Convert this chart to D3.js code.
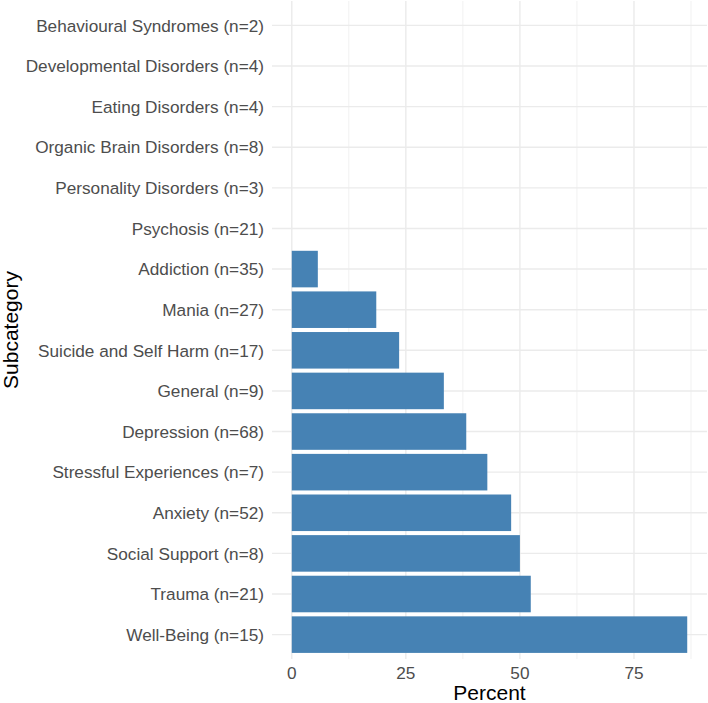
<!DOCTYPE html>
<html>
<head>
<meta charset="utf-8">
<script src="https://cdn.jsdelivr.net/npm/d3@7"></script>
<style>
  body { margin: 0; background: #fff; }
  text { font-family: "Liberation Sans", Arial, Helvetica, sans-serif; }
</style>
</head>
<body>
<div id="chart"></div>
<script>
// subcategories, top to bottom
var categories = [
    'Behavioural Syndromes (n=2)',
    'Developmental Disorders (n=4)',
    'Eating Disorders (n=4)',
    'Organic Brain Disorders (n=8)',
    'Personality Disorders (n=3)',
    'Psychosis (n=21)',
    'Addiction (n=35)',
    'Mania (n=27)',
    'Suicide and Self Harm (n=17)',
    'General (n=9)',
    'Depression (n=68)',
    'Stressful Experiences (n=7)',
    'Anxiety (n=52)',
    'Social Support (n=8)',
    'Trauma (n=21)',
    'Well-Being (n=15)'
];
var percents = [0, 0, 0, 0, 0, 0, 5.71, 18.52, 23.53, 33.33, 38.24, 42.86, 48.08, 50, 52.38, 86.67];
var xTicks = [0, 25, 50, 75];
var xMinor = [12.5, 37.5, 62.5, 87.5];

var width = 708, height = 703;
var margin = { top: 1, right: 1, bottom: 44, left: 272 };
var fill = '#4682B4';

var svg = d3.select('#chart').append('svg')
    .attr('width', width)
    .attr('height', height);

var maxVal = d3.max(percents);
var x = d3.scaleLinear()
    .domain([-0.05 * maxVal, maxVal * 1.05])
    .range([margin.left, width - margin.right]);

// discrete axis with ggplot's 0.6 expansion
var step = (height - margin.bottom - margin.top) / (categories.length - 1 + 1.2);
var y = d3.scalePoint()
    .domain(categories)
    .range([margin.top + 0.6 * step, height - margin.bottom - 0.6 * step]);

var grid = svg.append('g');

grid.selectAll('line.minor')
    .data(xMinor)
    .enter().append('line')
    .attr('x1', d => x(d)).attr('x2', d => x(d))
    .attr('y1', margin.top).attr('y2', height - margin.bottom)
    .attr('stroke', '#EBEBEB').attr('stroke-width', 0.7);

grid.selectAll('line.major')
    .data(xTicks)
    .enter().append('line')
    .attr('x1', d => x(d)).attr('x2', d => x(d))
    .attr('y1', margin.top).attr('y2', height - margin.bottom)
    .attr('stroke', '#EBEBEB').attr('stroke-width', 1.4);

grid.selectAll('line.hmajor')
    .data(categories)
    .enter().append('line')
    .attr('x1', margin.left).attr('x2', width - margin.right)
    .attr('y1', d => y(d)).attr('y2', d => y(d))
    .attr('stroke', '#EBEBEB').attr('stroke-width', 1.4);

/* bars */
var barH = step * 0.9;
svg.append('g').selectAll('rect')
    .data(categories)
    .enter().append('rect')
    .attr('x', x(0))
    .attr('y', d => y(d) - barH / 2)
    .attr('width', (d, i) => x(percents[i]) - x(0))
    .attr('height', barH)
    .attr('fill', fill);

/* y tick labels */
svg.append('g').selectAll('text')
    .data(categories)
    .enter().append('text')
    .attr('x', margin.left - 8)
    .attr('y', d => y(d))
    .attr('dy', '0.36em')
    .attr('text-anchor', 'end')
    .attr('font-size', '17.2px')
    .attr('fill', '#4D4D4D')
    .text(d => d);

/* x tick labels */
svg.append('g').selectAll('text')
    .data(xTicks)
    .enter().append('text')
    .attr('x', d => x(d))
    .attr('y', 678.5)
    .attr('text-anchor', 'middle')
    .attr('font-size', '17.2px')
    .attr('fill', '#4D4D4D')
    .text(d => d);

// axis titles
svg.append('text')
    .attr('x', (margin.left + width - margin.right) / 2)
    .attr('y', 700)
    .attr('text-anchor', 'middle')
    .attr('font-size', '21px')
    .attr('fill', '#000')
    .text('Percent');

svg.append('text')
    .attr('transform', 'translate(17.5,' + ((margin.top + height - margin.bottom) / 2) + ') rotate(-90)')
    .attr('text-anchor', 'middle')
    .attr('font-size', '21px')
    .attr('fill', '#000')
    .text('Subcategory');
</script>
</body>
</html>
